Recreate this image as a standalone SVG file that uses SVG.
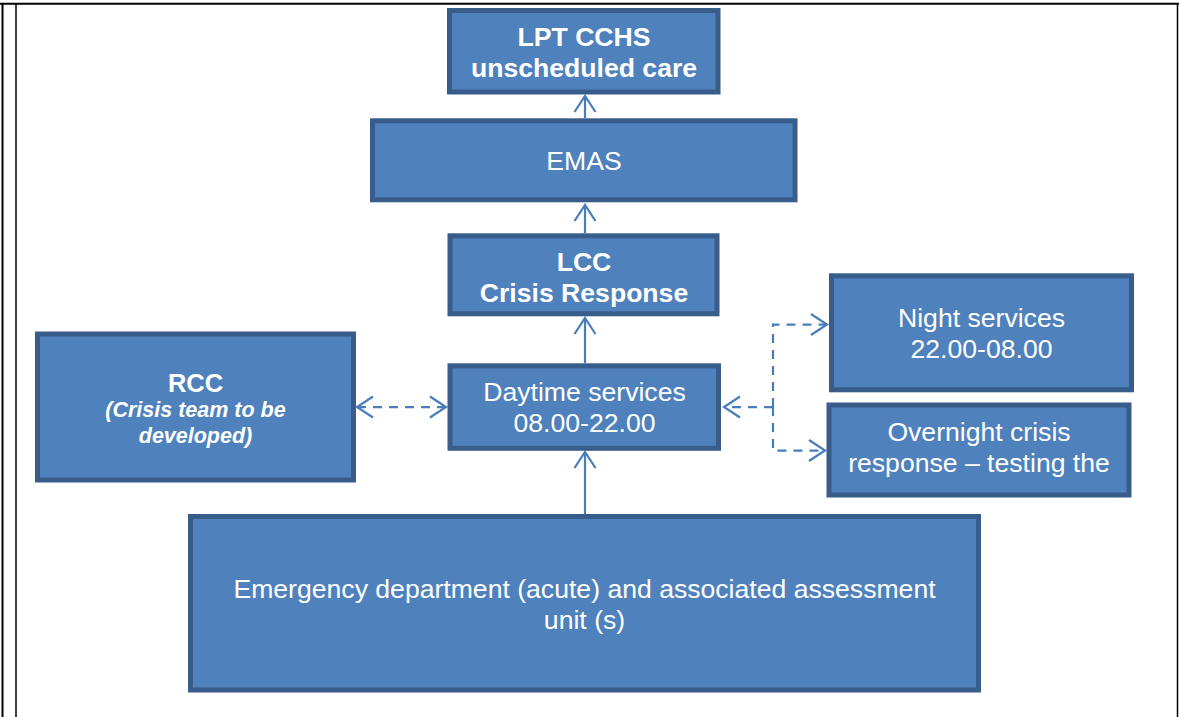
<svg xmlns="http://www.w3.org/2000/svg" width="1179" height="717" viewBox="0 0 1179 717">
<style>
.box{fill:#4F81BD;stroke:#385D8A;stroke-width:5}
.t{font-family:"Liberation Sans",Arial,sans-serif;fill:#fff;text-anchor:middle;font-size:26.6px}
.b{font-weight:bold}
.bi{font-weight:bold;font-style:italic;font-size:21.5px}
.ln{fill:none;stroke:#4A7EBB;stroke-width:2.25}
.dash{stroke-dasharray:9 7}
.frame{stroke:#000;fill:none}
</style>
<defs>
<marker id="ah" markerUnits="userSpaceOnUse" viewBox="-18 -13 20 26" refX="0" refY="0" markerWidth="20" markerHeight="26" orient="auto-start-reverse">
<path d="M-16,-10.5 L0,0 L-16,10.5" fill="none" stroke="#4A7EBB" stroke-width="2.25" stroke-dasharray="none"/>
</marker>
<clipPath id="clipOver"><rect x="831.5" y="407.5" width="295" height="85"/></clipPath>
</defs>
<rect width="1179" height="717" fill="#fff"/>
<g id="frame">
<line class="frame" x1="0" y1="3.7" x2="1179" y2="3.7" stroke-width="2"/>
<line class="frame" x1="2.5" y1="3" x2="2.5" y2="717" stroke-width="2"/>
<line class="frame" x1="16" y1="3" x2="16" y2="717" stroke-width="1.5"/>
<line class="frame" x1="1177.5" y1="3" x2="1177.5" y2="717" stroke-width="1.5"/>
</g>
<g id="connectors">
<line class="ln" x1="585" y1="118" x2="585" y2="96" marker-end="url(#ah)"/>
<line class="ln" x1="585" y1="233" x2="585" y2="205" marker-end="url(#ah)"/>
<line class="ln" x1="585" y1="363" x2="585" y2="318" marker-end="url(#ah)"/>
<line class="ln" x1="585" y1="514" x2="585" y2="452" marker-end="url(#ah)"/>
<line class="ln dash" x1="357" y1="407" x2="446" y2="407" marker-start="url(#ah)" marker-end="url(#ah)"/>
<polyline class="ln dash" points="773,407 724,407" marker-end="url(#ah)"/>
<polyline class="ln dash" points="773,407 773,324.5 827,324.5" marker-end="url(#ah)"/>
<polyline class="ln dash" points="773,407 773,450.5 825,450.5" marker-end="url(#ah)"/>
</g>
<g id="lpt">
<rect class="box" x="449.5" y="10.5" width="268.5" height="81.5"/>
<text class="t b" x="584" y="46">LPT CCHS</text>
<text class="t b" x="584" y="76.5">unscheduled care</text>
</g>
<g id="emas">
<rect class="box" x="372.5" y="120.8" width="422.5" height="79"/>
<text class="t" x="584" y="170">EMAS</text>
</g>
<g id="lcc">
<rect class="box" x="450" y="235.8" width="267" height="78"/>
<text class="t b" x="584" y="271">LCC</text>
<text class="t b" x="584" y="301.5">Crisis Response</text>
</g>
<g id="daytime">
<rect class="box" x="450" y="365.8" width="268.5" height="82.5"/>
<text class="t" x="584.5" y="400.5">Daytime services</text>
<text class="t" x="584.5" y="431.5">08.00-22.00</text>
</g>
<g id="rcc">
<rect class="box" x="37.5" y="334" width="316" height="146"/>
<text class="t b" x="195.5" y="392" style="font-size:25.5px">RCC</text>
<text class="t bi" x="195.5" y="417">(Crisis team to be</text>
<text class="t bi" x="195.5" y="442.5">developed)</text>
</g>
<g id="night">
<rect class="box" x="831.5" y="275.8" width="300" height="114"/>
<text class="t" x="981.5" y="327">Night services</text>
<text class="t" x="981.5" y="358">22.00-08.00</text>
</g>
<g id="overnight">
<rect class="box" x="829" y="405" width="300" height="90"/>
<g clip-path="url(#clipOver)">
<text class="t" x="979" y="440.5">Overnight crisis</text>
<text class="t" x="979" y="472">response – testing the</text>
</g>
</g>
<g id="ed">
<rect class="box" x="190.5" y="516.5" width="788" height="173.5"/>
<text class="t" x="584.5" y="598">Emergency department (acute) and associated assessment</text>
<text class="t" x="584.5" y="629">unit (s)</text>
</g>
</svg>
